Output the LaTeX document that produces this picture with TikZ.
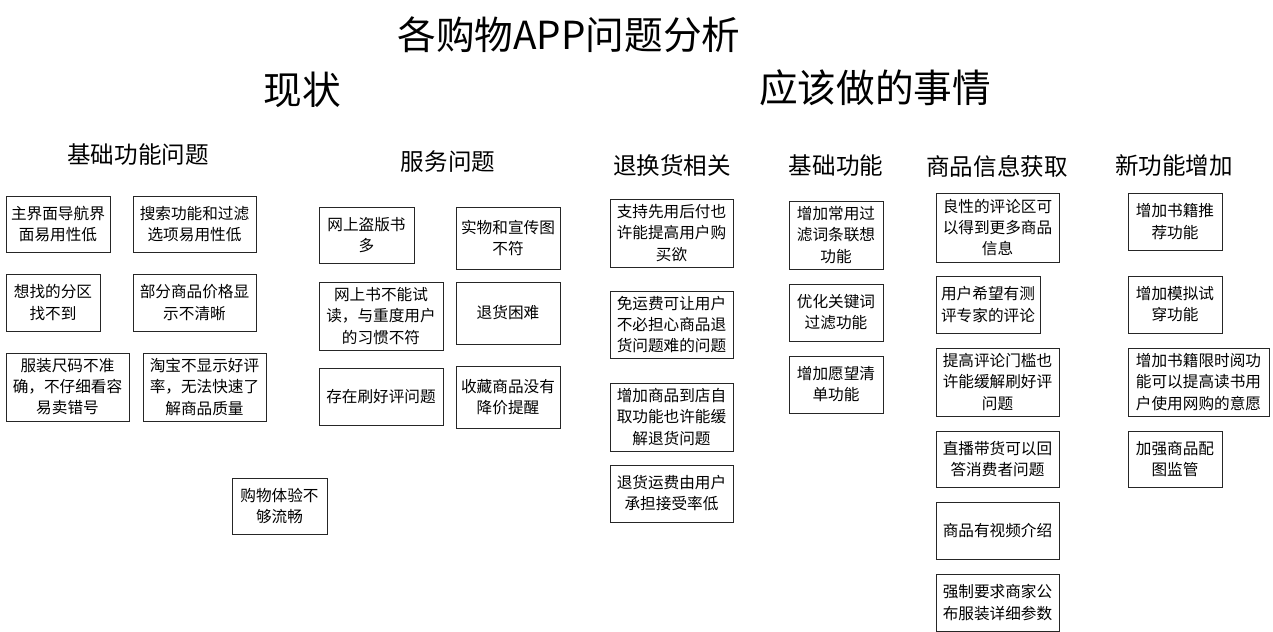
\documentclass[tikz,border=0pt]{standalone}
\usepackage{fontspec}
\setmainfont{Noto Sans CJK SC}
\usepackage{tikz}
\usetikzlibrary{positioning}

\begin{document}
\begin{tikzpicture}[
    x=0.2mm, y=-0.2mm,
    box/.style 2 args={draw=black!85, line width=0.55pt, align=center, inner sep=1pt,
        minimum width=#1*0.2mm, minimum height=#2*0.2mm, font=\fontsize{8.9}{12}\selectfont},
    head/.style={font=\fontsize{13.4}{15}\selectfont},
    big/.style={font=\fontsize{22}{24}\selectfont},
]
\useasboundingbox (0,0) rectangle (1273,632);

% Titles
\node[big] (title) at (569, 35) {各购物APP问题分析};
\node[big] (now) at (302, 90) {现状};
\node[big] (todo) at (875, 88) {应该做的事情};

% Column heads
\node[head] (hbase) at (138, 155) {基础功能问题};
\node[head] (hserv) at (448, 162) {服务问题};
\node[head] (hret) at (672, 166) {退换货相关};
\node[head] (hfunc) at (836, 166) {基础功能};
\node[head] (hinfo) at (997, 166) {商品信息获取};
\node[head] (hnew) at (1174, 166) {新功能增加};

% Basic function problems
\node[box={104}{56}] (b1) at (58, 224) {主界面导航界\\面易用性低};
\node[box={123}{56}] (b2) at (194.5, 224) {搜索功能和过滤\\选项易用性低};
\node[box={94}{57}] (b3) at (53, 302.5) {想找的分区\\找不到};
\node[box={123}{57}] (b4) at (194.5, 302.5) {部分商品价格显\\示不清晰};
\node[box={123}{68}] (b5) at (67.5, 387) {服装尺码不准\\确，不仔细看容\\易卖错号};
\node[box={123}{68}] (b6) at (204.5, 387) {淘宝不显示好评\\率，无法快速了\\解商品质量};

% Service problems
\node[box={95}{56}] (s1) at (366.5, 235) {网上盗版书\\多};
\node[box={104}{62}] (s2) at (508, 238) {实物和宣传图\\不符};
\node[box={124}{68}] (s3) at (381, 316) {网上书不能试\\读，与重度用户\\的习惯不符};
\node[box={104}{62}] (s4) at (508, 313) {退货困难};
\node[box={124}{57}] (s5) at (381, 396.5) {存在刷好评问题};
\node[box={104}{62}] (s6) at (508, 397) {收藏商品没有\\降价提醒};
\node[box={95}{56}] (s7) at (279.5, 506) {购物体验不\\够流畅};

% Returns
\node[box={123}{68}] (r1) at (671.5, 233) {支持先用后付也\\许能提高用户购\\买欲};
\node[box={123}{67}] (r2) at (671.5, 324.5) {免运费可让用户\\不必担心商品退\\货问题难的问题};
\node[box={123}{68}] (r3) at (671.5, 417) {增加商品到店自\\取功能也许能缓\\解退货问题};
\node[box={123}{57}] (r4) at (671.5, 493.5) {退货运费由用户\\承担接受率低};

% Basic functions
\node[box={94}{68}] (f1) at (836, 235) {增加常用过\\滤词条联想\\功能};
\node[box={94}{57}] (f2) at (836, 312.5) {优化关键词\\过滤功能};
\node[box={94}{57}] (f3) at (836, 384.5) {增加愿望清\\单功能};

% Product information
\node[box={123}{69}] (i1) at (997.5, 227.5) {良性的评论区可\\以得到更多商品\\信息};
\node[box={104}{57}] (i2) at (988, 304.5) {用户希望有测\\评专家的评论};
\node[box={123}{68}] (i3) at (997.5, 382) {提高评论门槛也\\许能缓解刷好评\\问题};
\node[box={123}{56}] (i4) at (997.5, 459) {直播带货可以回\\答消费者问题};
\node[box={123}{57}] (i5) at (997.5, 530.5) {商品有视频介绍};
\node[box={123}{57}] (i6) at (997.5, 602.5) {强制要求商家公\\布服装详细参数};

% New functions
\node[box={94}{57}] (n1) at (1175, 221.5) {增加书籍推\\荐功能};
\node[box={94}{57}] (n2) at (1175, 304.5) {增加模拟试\\穿功能};
\node[box={141}{68}] (n3) at (1198.5, 382) {增加书籍限时阅功\\能可以提高读书用\\户使用网购的意愿};
\node[box={94}{56}] (n4) at (1175, 459) {加强商品配\\图监管};

\end{tikzpicture}
\end{document}
